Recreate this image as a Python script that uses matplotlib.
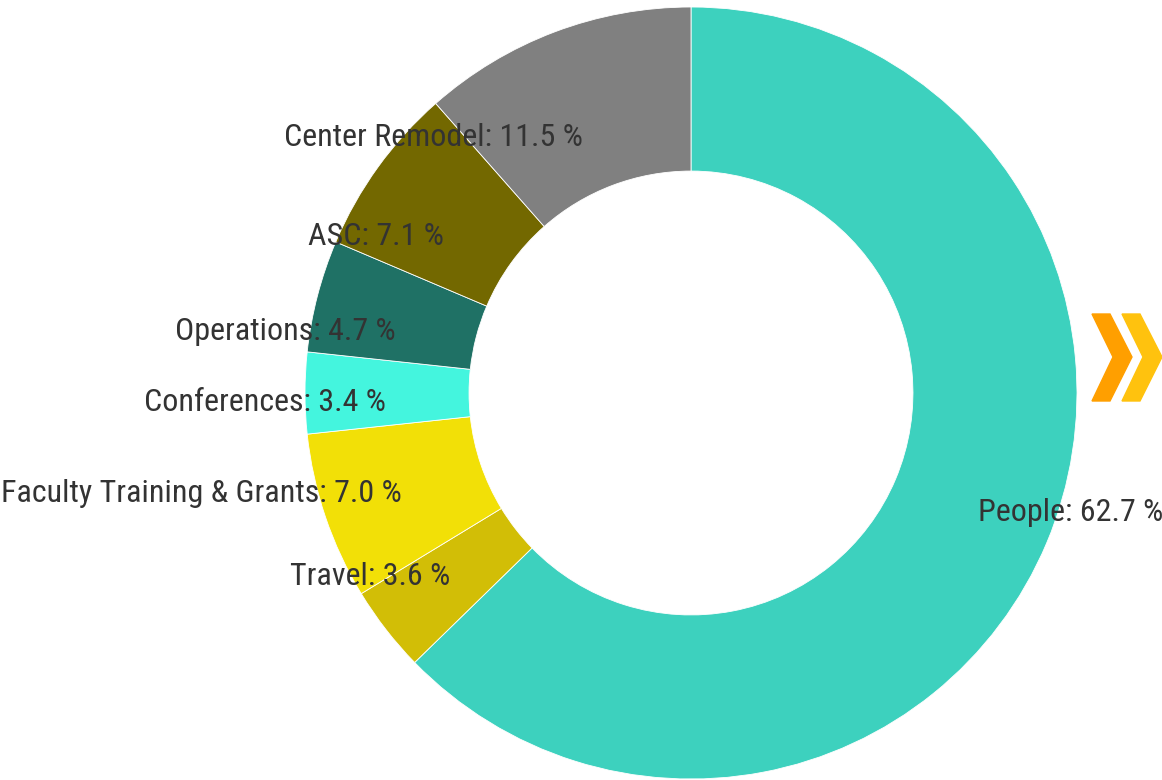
import matplotlib
matplotlib.use("Agg")
import matplotlib.pyplot as plt
from matplotlib.patches import Polygon

# --- data (clockwise from the top) ---
categories = ["People", "Travel", "Faculty Training & Grants", "Conferences",
              "Operations", "ASC", "Center Remodel"]
shares = [62.7, 3.6, 7.0, 3.4, 4.7, 7.1, 11.5]
colors = ["#3DD1BE", "#D2BE06", "#F2E007", "#44F5DE", "#1F7165", "#736800", "#808080"]

plt.rcParams['font.family'] = ['Roboto Condensed', 'Liberation Sans Narrow', 'Roboto', 'DejaVu Sans']

W, H = 1162, 780
fig = plt.figure(figsize=(W / 100, H / 100), dpi=100)

# donut centre and radius in pixels
cx, cy, R = 691, 393, 386
ax = fig.add_axes([(cx - R) / W, (H - cy - R) / H, 2 * R / W, 2 * R / H])

labels = [f"{c}: {v:.1f} %" for c, v in zip(categories, shares)]
wedges, texts = ax.pie(shares, colors=colors, labels=labels, startangle=90,
                       counterclock=False, radius=1, labeldistance=0.79,
                       wedgeprops=dict(width=0.425, edgecolor="white", linewidth=0.6),
                       textprops=dict(fontsize=23, color="#333333"))
# small nudge so labels sit like the original
for t in texts:
    x, y = t.get_position()
    t.set_position((x * 1.02 if x > 0 else x, y * 0.93 - 0.025))
ax.set_xlim(-1, 1)
ax.set_ylim(-1, 1)
ax.axis("off")

# --- chevron decoration at the right edge ---
def chevron(x0, color):
    pts = [(x0, 314), (x0 + 18, 314), (x0 + 40, 357), (x0 + 18, 401),
           (x0, 401), (x0 + 21, 357)]
    pts = [(px / W, 1 - py / H) for px, py in pts]
    fig.patches.append(Polygon(pts, closed=True, color=color, transform=fig.transFigure))

chevron(1092, "#FF9F00")
chevron(1122, "#FFC20E")

fig.savefig("out.png", dpi=100, facecolor="white")
